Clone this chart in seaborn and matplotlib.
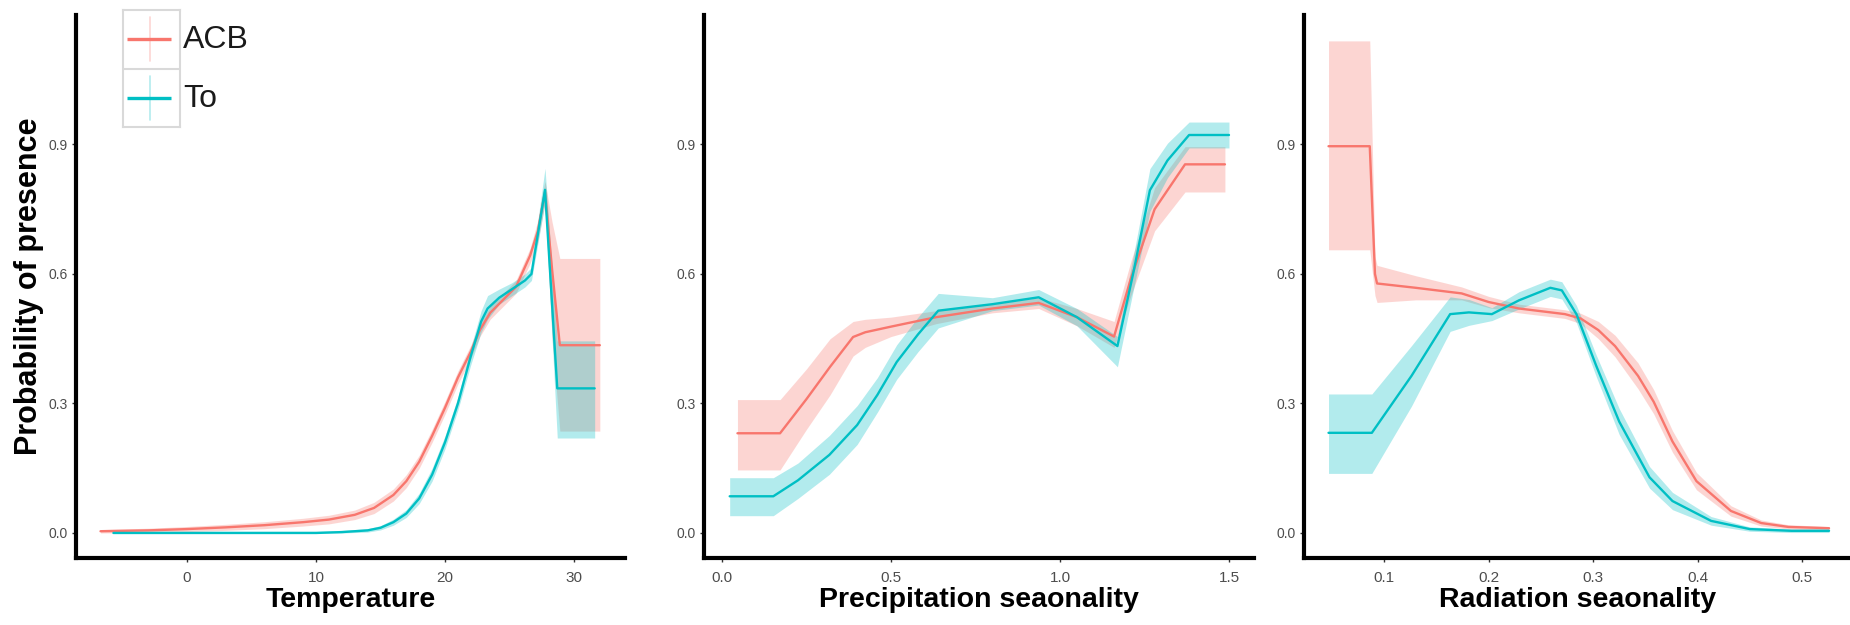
import matplotlib
matplotlib.use("Agg")
import matplotlib.pyplot as plt
import seaborn as sns

# ---------------------------------------------------------------- data
# Temperature panel
temp_x_acb = [-6.7, -3, 0, 3, 6, 9, 11, 13, 14.5, 16, 17, 18, 19, 20, 21, 22,
              22.7, 23.5, 24.5, 25.5, 26.6, 27.2, 27.75, 28.3, 28.9, 30, 32.0]
temp_acb = [0.004, 0.006, 0.009, 0.013, 0.018, 0.025, 0.031, 0.042, 0.058, 0.088,
            0.12, 0.165, 0.225, 0.29, 0.36, 0.42, 0.47, 0.51, 0.54, 0.57, 0.643,
            0.70, 0.79, 0.61, 0.435, 0.435, 0.435]
temp_acb_lo = [0.0, 0.001, 0.003, 0.006, 0.01, 0.016, 0.021, 0.031, 0.045, 0.074,
               0.105, 0.15, 0.21, 0.275, 0.345, 0.405, 0.455, 0.495, 0.525, 0.555,
               0.625, 0.675, 0.765, 0.45, 0.236, 0.236, 0.236]
temp_acb_hi = [0.008, 0.011, 0.015, 0.02, 0.026, 0.034, 0.041, 0.053, 0.071, 0.102,
               0.135, 0.18, 0.24, 0.305, 0.375, 0.435, 0.485, 0.525, 0.555, 0.585,
               0.66, 0.725, 0.815, 0.72, 0.636, 0.636, 0.636]

temp_x_to = [-5.7, 0, 5, 10, 12, 14, 15, 16, 17, 18, 19, 20, 21, 22, 22.8, 23.3,
             24.2, 25.2, 26.2, 26.7, 27.75, 28.7, 30, 31.6]
temp_to = [0.0, 0.0, 0.0, 0.0, 0.002, 0.006, 0.012, 0.025, 0.045, 0.08, 0.135,
           0.21, 0.30, 0.41, 0.49, 0.52, 0.545, 0.565, 0.585, 0.60, 0.795, 0.335,
           0.335, 0.335]
temp_to_lo = [0.0, 0.0, 0.0, 0.0, 0.0, 0.002, 0.007, 0.018, 0.036, 0.068, 0.12,
              0.195, 0.285, 0.39, 0.465, 0.495, 0.53, 0.55, 0.57, 0.585, 0.765,
              0.22, 0.22, 0.22]
temp_to_hi = [0.004, 0.004, 0.004, 0.004, 0.006, 0.01, 0.017, 0.032, 0.054, 0.092,
              0.15, 0.225, 0.315, 0.43, 0.515, 0.55, 0.565, 0.58, 0.60, 0.615,
              0.845, 0.445, 0.445, 0.445]

# Precipitation seasonality panel
prec_x_acb = [0.046, 0.172, 0.25, 0.32, 0.388, 0.424, 0.5, 0.634, 0.8, 0.937,
              1.05, 1.16, 1.21, 1.28, 1.37, 1.488]
prec_acb = [0.231, 0.231, 0.31, 0.385, 0.454, 0.465, 0.478, 0.50, 0.52, 0.533,
            0.50, 0.455, 0.59, 0.75, 0.854, 0.854]
prec_acb_lo = [0.146, 0.146, 0.24, 0.32, 0.41, 0.43, 0.455, 0.485, 0.51, 0.52,
               0.48, 0.43, 0.55, 0.70, 0.79, 0.79]
prec_acb_hi = [0.309, 0.309, 0.38, 0.45, 0.49, 0.495, 0.50, 0.515, 0.53, 0.545,
               0.52, 0.49, 0.63, 0.80, 0.895, 0.895]

prec_x_to = [0.023, 0.152, 0.225, 0.318, 0.40, 0.46, 0.517, 0.58, 0.64, 0.8,
             0.937, 1.05, 1.17, 1.219, 1.266, 1.318, 1.382, 1.50]
prec_to = [0.085, 0.085, 0.122, 0.181, 0.25, 0.32, 0.396, 0.46, 0.515, 0.53,
           0.546, 0.50, 0.433, 0.61, 0.794, 0.863, 0.922, 0.922]
prec_to_lo = [0.04, 0.04, 0.08, 0.136, 0.205, 0.28, 0.356, 0.42, 0.475, 0.515,
              0.528, 0.48, 0.385, 0.57, 0.745, 0.823, 0.892, 0.892]
prec_to_hi = [0.128, 0.128, 0.162, 0.226, 0.295, 0.36, 0.436, 0.50, 0.555, 0.545,
              0.564, 0.52, 0.455, 0.65, 0.844, 0.903, 0.952, 0.952]

# Radiation seasonality panel
rad_x_acb = [0.0465, 0.086, 0.091, 0.093, 0.13, 0.174, 0.2, 0.229, 0.273, 0.288,
             0.305, 0.321, 0.343, 0.358, 0.376, 0.399, 0.432, 0.461, 0.487, 0.526]
rad_acb = [0.896, 0.896, 0.60, 0.578, 0.568, 0.555, 0.535, 0.52, 0.507, 0.497,
           0.47, 0.433, 0.364, 0.304, 0.212, 0.12, 0.051, 0.023, 0.014, 0.011]
rad_acb_lo = [0.656, 0.656, 0.55, 0.534, 0.54, 0.54, 0.522, 0.51, 0.497, 0.485,
              0.45, 0.408, 0.334, 0.276, 0.187, 0.10, 0.039, 0.016, 0.009, 0.007]
rad_acb_hi = [1.14, 1.14, 0.64, 0.62, 0.596, 0.57, 0.548, 0.53, 0.517, 0.509,
              0.49, 0.458, 0.394, 0.332, 0.237, 0.14, 0.063, 0.03, 0.019, 0.015]

rad_x_to = [0.0465, 0.088, 0.126, 0.163, 0.181, 0.203, 0.229, 0.259, 0.27, 0.284,
            0.303, 0.325, 0.354, 0.376, 0.413, 0.45, 0.49, 0.526]
rad_to = [0.232, 0.232, 0.364, 0.507, 0.511, 0.507, 0.539, 0.568, 0.562, 0.507,
          0.387, 0.258, 0.129, 0.074, 0.028, 0.009, 0.005, 0.005]
rad_to_lo = [0.138, 0.138, 0.294, 0.467, 0.481, 0.492, 0.519, 0.548, 0.542, 0.487,
             0.362, 0.228, 0.104, 0.054, 0.018, 0.004, 0.001, 0.001]
rad_to_hi = [0.322, 0.322, 0.434, 0.547, 0.541, 0.522, 0.559, 0.588, 0.582, 0.527,
             0.412, 0.288, 0.154, 0.094, 0.038, 0.014, 0.009, 0.009]

series_names = ["ACB", "To"]
y_ticks = [0.0, 0.3, 0.6, 0.9]
panels = [
    dict(xlabel="Temperature", xticks=[0, 10, 20, 30],
         xticklabels=["0", "10", "20", "30"], xlim=(-8.6, 33.95),
         acb=(temp_x_acb, temp_acb, temp_acb_lo, temp_acb_hi),
         to=(temp_x_to, temp_to, temp_to_lo, temp_to_hi)),
    dict(xlabel="Precipitation seaonality", xticks=[0.0, 0.5, 1.0, 1.5],
         xticklabels=["0.0", "0.5", "1.0", "1.5"], xlim=(-0.053, 1.574),
         acb=(prec_x_acb, prec_acb, prec_acb_lo, prec_acb_hi),
         to=(prec_x_to, prec_to, prec_to_lo, prec_to_hi)),
    dict(xlabel="Radiation seaonality", xticks=[0.1, 0.2, 0.3, 0.4, 0.5],
         xticklabels=["0.1", "0.2", "0.3", "0.4", "0.5"], xlim=(0.023, 0.548),
         acb=(rad_x_acb, rad_acb, rad_acb_lo, rad_acb_hi),
         to=(rad_x_to, rad_to, rad_to_lo, rad_to_hi)),
]

RED = "#F8766D"
TEAL = "#00BFC4"
TICK_FONT = ["Liberation Sans Narrow", "Liberation Sans", "DejaVu Sans"]

sns.set_theme(style="white")
plt.rcParams["font.family"] = ["Liberation Sans", "DejaVu Sans"]

fig = plt.figure(figsize=(18.5, 6.25), dpi=100)
W, H = 1850, 625
bottom, height = 67 / H, 543 / H
lefts = [(76, 549), (704, 550), (1304, 548)]

for i, (p, (lx, wx)) in enumerate(zip(panels, lefts)):
    ax = fig.add_axes([lx / W, bottom, wx / W, height])
    for key, col in (("acb", RED), ("to", TEAL)):
        x, y, lo, hi = p[key]
        ax.fill_between(x, lo, hi, color=col, alpha=0.3, linewidth=0)
        sns.lineplot(x=x, y=y, color=col, linewidth=1.7, ax=ax)
    ax.set_xlim(*p["xlim"])
    ax.set_ylim(-0.058, 1.2)
    ax.set_xticks(p["xticks"], p["xticklabels"], fontfamily=TICK_FONT,
                  fontsize=11, color="#4D4D4D")
    ax.set_yticks(y_ticks, [f"{v:.1f}" for v in y_ticks], fontfamily=TICK_FONT,
                  fontsize=10, color="#4D4D4D")
    ax.tick_params(axis="both", length=3, width=1, color="#333333", pad=3,
                   bottom=True, left=True)
    ax.tick_params(axis="x", pad=6)
    for side in ("top", "right"):
        ax.spines[side].set_visible(False)
    for side in ("left", "bottom"):
        ax.spines[side].set_color("black")
        ax.spines[side].set_linewidth(3)
        ax.spines[side].set_capstyle("projecting")
    ax.set_xlabel(p["xlabel"], fontsize=20.5, fontweight="bold",
                  color="black", labelpad=2)
    if i == 0:
        ax.set_ylabel("Probability of presence", fontsize=22,
                      fontweight="bold", color="black")
        ax.yaxis.set_label_coords(-0.058, 0.5)
    else:
        ax.set_ylabel("")
    ax.grid(False)

# ggplot-style legend keys
leg = fig.add_axes([123 / W, 1 - 127 / H, 57 / W, 117 / H])
leg.set_xlim(0, 1)
leg.set_ylim(2, 0)
leg.set_xticks([])
leg.set_yticks([])
for s in leg.spines.values():
    s.set_color("#D9D9D9")
    s.set_linewidth(1.5)
leg.axhline(1, color="#D9D9D9", linewidth=1.5)
for j, (name, col) in enumerate(zip(series_names, [RED, TEAL])):
    yc = j + 0.5
    leg.plot([0.47, 0.47], [yc - 0.38, yc + 0.38], color=col, alpha=0.3, lw=1.2)
    leg.plot([0.07, 0.84], [yc, yc], color=col, lw=2.4, solid_capstyle="butt")
    fig.text(183 / W, 1 - (40 + j * 59) / H, name, fontsize=23,
             va="center", ha="left", color="#1A1A1A")

fig.savefig("out.png", dpi=100)
